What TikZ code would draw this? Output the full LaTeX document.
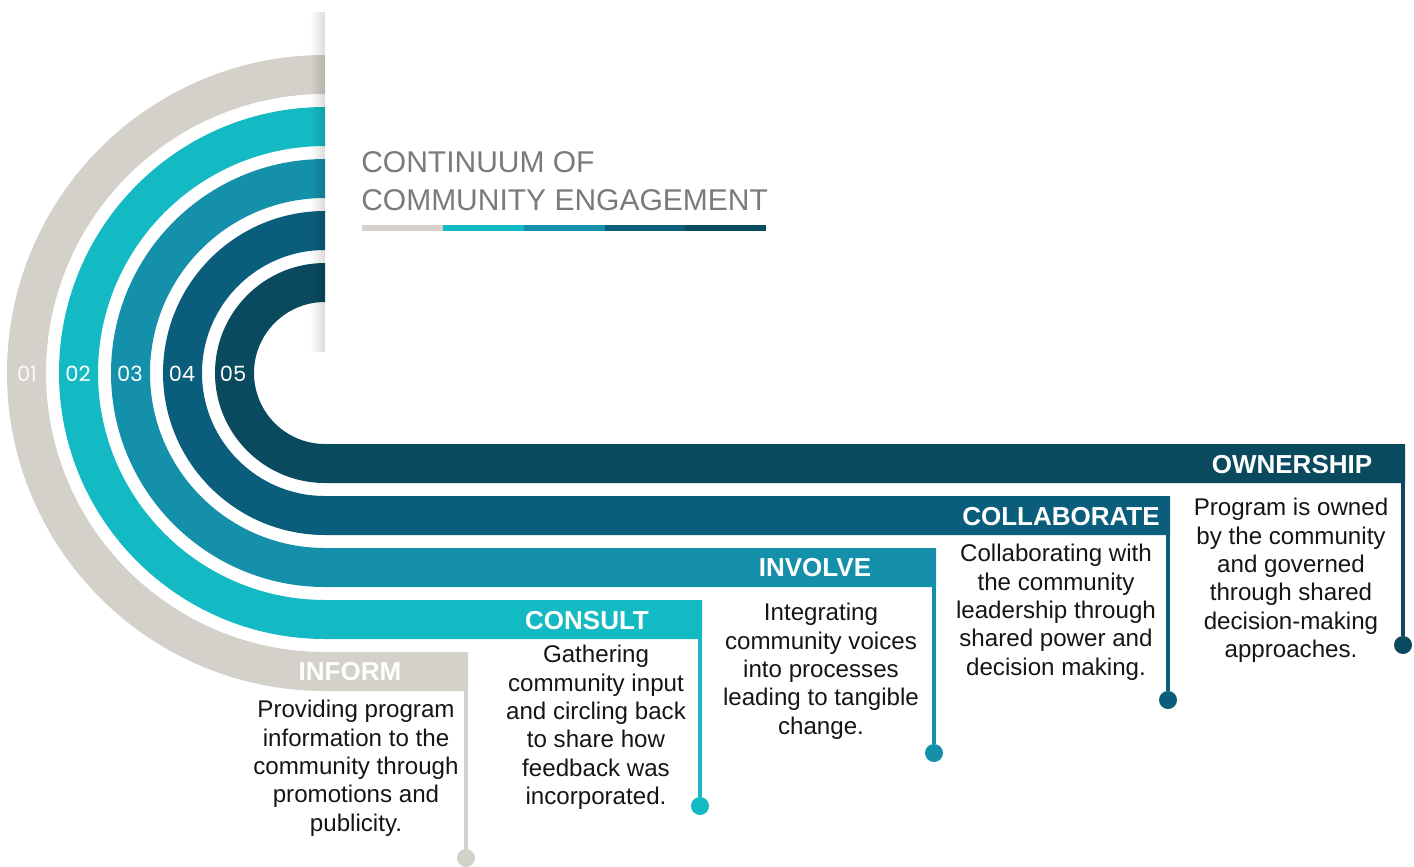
\documentclass[tikz,border=0pt]{standalone}
\usepackage{fontspec}
\setmainfont{Liberation Sans}
\newfontfamily\numfont{Poppins}
\usetikzlibrary{fadings}
\definecolor{bandA}{HTML}{D3D1C9}
\definecolor{bandB}{HTML}{13BAC3}
\definecolor{bandC}{HTML}{1490AA}
\definecolor{bandD}{HTML}{0A5E7B}
\definecolor{bandE}{HTML}{0A4A5E}
\definecolor{titlegray}{HTML}{7A7A7A}
\definecolor{bodytext}{HTML}{151515}

\begin{document}
\begin{tikzpicture}[x=0.75pt, y=0.75pt,
	stem/.style={draw=#1, line width=3pt},
	dot/.style={circle, fill=#1, inner sep=0pt, minimum size=13.5pt},
	head/.style={text=white, inner sep=0pt, font=\fontsize{19.5}{23}\selectfont\bfseries},
	desc/.style={text=bodytext, align=center, anchor=north, inner sep=0pt, font=\fontsize{18.1}{21.3}\selectfont},
	num/.style={text=white, inner sep=0pt, font=\numfont\fontsize{15.75}{18}\selectfont}]
\useasboundingbox (0,0) rectangle (1414,-867);

\fill[bandA] (325,-55) arc[start angle=90, end angle=270, radius=318] -- (468,-691) -- (468,-652) -- (325,-652) arc[start angle=270, end angle=90, radius=279] -- cycle;
\fill[bandB] (325,-107) arc[start angle=90, end angle=270, radius=266] -- (702,-639) -- (702,-600) -- (325,-600) arc[start angle=270, end angle=90, radius=227] -- cycle;
\fill[bandC] (325,-159) arc[start angle=90, end angle=270, radius=214] -- (936,-587) -- (936,-548) -- (325,-548) arc[start angle=270, end angle=90, radius=175] -- cycle;
\fill[bandD] (325,-211) arc[start angle=90, end angle=270, radius=162] -- (1170,-535) -- (1170,-496) -- (325,-496) arc[start angle=270, end angle=90, radius=123] -- cycle;
\fill[bandE] (325,-263) arc[start angle=90, end angle=270, radius=110] -- (1405,-483) -- (1405,-444) -- (325,-444) arc[start angle=270, end angle=90, radius=71] -- cycle;
\fill[black, path fading=west, fill opacity=0.14] (310,-12) rectangle (325,-352);

\node[num, text=white!92!bandA] (n1) at (27,-374) {01};
\node[num] (n2) at (78,-374) {02};
\node[num] (n3) at (130,-374) {03};
\node[num] (n4) at (182,-374) {04};
\node[num] (n5) at (233,-374) {05};

\node[text=titlegray, align=left, anchor=north west, inner sep=0pt, font=\fontsize{22.5}{28.5}\selectfont] (title) at (361,-151) {CONTINUUM OF\\COMMUNITY ENGAGEMENT};
\fill[bandA] (362,-225) rectangle (443,-231);
\fill[bandB] (443,-225) rectangle (524,-231);
\fill[bandC] (524,-225) rectangle (605,-231);
\fill[bandD] (605,-225) rectangle (685,-231);
\fill[bandE] (685,-225) rectangle (766,-231);

\node[head] (inform) at (350,-672) {INFORM};
\node[head] (consult) at (587,-621) {CONSULT};
\node[head] (involve) at (815,-568) {INVOLVE};
\node[head] (collaborate) at (1061,-517) {COLLABORATE};
\node[head] (ownership) at (1292,-465) {OWNERSHIP};

\node[desc] (informtext) at (356,-700) {Providing program\\information to the\\community through\\promotions and\\publicity.};
\node[desc] (consulttext) at (596,-645) {Gathering\\community input\\and circling back\\to share how\\feedback was\\incorporated.};
\node[desc] (involvetext) at (821,-603) {Integrating\\community voices\\into processes\\leading to tangible\\change.};
\node[desc] (collaboratetext) at (1056,-544) {Collaborating with\\the community\\leadership through\\shared power and\\decision making.};
\node[desc] (ownershiptext) at (1291,-498) {Program is owned\\by the community\\and governed\\through shared\\decision-making\\approaches.};

\coordinate (informend) at (466,-691);
\coordinate (consultend) at (700,-639);
\coordinate (involveend) at (934,-587);
\coordinate (collaborateend) at (1168,-535);
\coordinate (ownershipend) at (1403,-483);
\node[dot=bandA] (informdot) at (466,-858) {};
\node[dot=bandB] (consultdot) at (700,-806) {};
\node[dot=bandC] (involvedot) at (934,-753) {};
\node[dot=bandD] (collaboratedot) at (1168,-700) {};
\node[dot=bandE] (ownershipdot) at (1403,-645) {};
\draw[stem=bandA] (informend) -- (informdot);
\draw[stem=bandB] (consultend) -- (consultdot);
\draw[stem=bandC] (involveend) -- (involvedot);
\draw[stem=bandD] (collaborateend) -- (collaboratedot);
\draw[stem=bandE] (ownershipend) -- (ownershipdot);
\end{tikzpicture}
\end{document}
